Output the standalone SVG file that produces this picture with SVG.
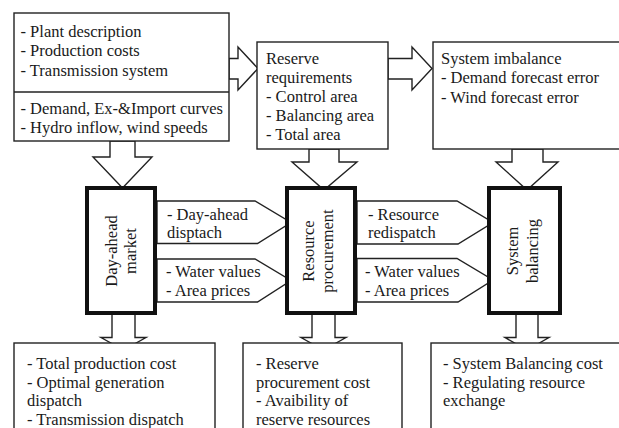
<svg xmlns="http://www.w3.org/2000/svg" width="619" height="428" viewBox="0 0 619 428">
<style>
text{font-family:"Liberation Serif","Times New Roman",serif;font-size:16.5px;fill:#1a1a1a}
.box{fill:#fff;stroke:#222;stroke-width:1.4}
.thick{fill:#fff;stroke:#111;stroke-width:4}
.arr{fill:#fff;stroke:#222;stroke-width:1.4;stroke-linejoin:miter}
.mid{text-anchor:middle}
</style>
<rect width="619" height="428" fill="#fff"/>
<g id="connectors">
  <polygon class="arr" points="229,58.5 238,58.5 238,47 258,68.5 238,90 238,79 229,79"/>
  <polygon class="arr" points="388,58.5 412,58.5 412,47 432,68.5 412,90 412,79 388,79"/>
  <polygon class="arr" points="110,141 110,157 93,157 122.5,188 152,157 135,157 135,141"/>
  <polygon class="arr" points="309,149 309,162 292,162 324,190 357,162 339,162 339,149"/>
  <polygon class="arr" points="512,149 512,162 496,162 527,190 558,162 543,162 543,149"/>
  <polygon class="arr" points="157,201 255,201 291,222.5 257.5,243.5 157,243.5"/>
  <polygon class="arr" points="157,259 255,259 291,280.5 257.5,302 157,302"/>
  <polygon class="arr" points="357,201 457,201 493,222.5 458,244 357,244"/>
  <polygon class="arr" points="357,258.5 457,258.5 493,280 458,302 357,302"/>
  <polygon class="arr" points="112,313 112,337.5 101,337.5 123.5,350 146,337.5 135,337.5 135,313"/>
  <polygon class="arr" points="312,313 312,337.5 301,337.5 323.5,350 346,337.5 335,337.5 335,313"/>
  <polygon class="arr" points="516,313 516,337.5 505,337.5 527,350 549,337.5 538,337.5 538,313"/>
</g>
<g id="inputs">
  <rect class="box" x="14" y="13" width="215" height="128"/>
  <line x1="14" y1="92" x2="229" y2="92" stroke="#222" stroke-width="1.4"/>
  <text x="20.5" y="36.5">- Plant description</text>
  <text x="20.5" y="56">- Production costs</text>
  <text x="20.5" y="75.5">- Transmission system</text>
  <text x="20.5" y="113.5">- Demand, Ex-&amp;Import curves</text>
  <text x="20.5" y="132.5">- Hydro inflow, wind speeds</text>
</g>
<g id="reserve-requirements">
  <rect class="box" x="257" y="42" width="131" height="107"/>
  <text x="266" y="64">Reserve</text>
  <text x="266" y="83">requirements</text>
  <text x="266" y="102">- Control area</text>
  <text x="266" y="121">- Balancing area</text>
  <text x="266" y="140">- Total area</text>
</g>
<g id="system-imbalance">
  <rect class="box" x="433" y="42" width="200" height="107"/>
  <text x="441" y="64">System imbalance</text>
  <text x="441" y="83">- Demand forecast error</text>
  <text x="441" y="102.5">- Wind forecast error</text>
</g>
<g id="day-ahead-market">
  <rect class="thick" x="87" y="188" width="68" height="125"/>
  <g transform="translate(121,251) rotate(-90)">
    <text class="mid" x="0" y="-4.5">Day-ahead</text>
    <text class="mid" x="0" y="14.5">market</text>
  </g>
</g>
<g id="resource-procurement">
  <rect class="thick" x="287" y="188" width="68" height="125"/>
  <g transform="translate(321,251) rotate(-90)">
    <text class="mid" x="0" y="-7">Resource</text>
    <text class="mid" x="0" y="12">procurement</text>
  </g>
</g>
<g id="system-balancing">
  <rect class="thick" x="489" y="188" width="71" height="125"/>
  <g transform="translate(524,251) rotate(-90)">
    <text class="mid" x="0" y="-6">System</text>
    <text class="mid" x="0" y="14">balancing</text>
  </g>
</g>
<g id="arrow-labels">
  <text x="167" y="219.5">- Day-ahead</text>
  <text x="167" y="238">disptach</text>
  <text x="166" y="277">- Water values</text>
  <text x="166" y="296">- Area prices</text>
  <text x="368" y="219.5">- Resource</text>
  <text x="368" y="238">redispatch</text>
  <text x="365" y="277">- Water values</text>
  <text x="365" y="296">- Area prices</text>
</g>
<g id="out-day-ahead">
  <rect class="box" x="14" y="343" width="201" height="100"/>
  <text x="27" y="368.5">- Total production cost</text>
  <text x="27" y="387.5">- Optimal generation</text>
  <text x="27" y="406">dispatch</text>
  <text x="27" y="425">- Transmission dispatch</text>
</g>
<g id="out-resource">
  <rect class="box" x="243" y="343" width="159" height="100"/>
  <text x="256" y="368.5">- Reserve</text>
  <text x="256" y="387.5">procurement cost</text>
  <text x="256" y="406">- Avaibility of</text>
  <text x="256" y="425">reserve resources</text>
</g>
<g id="out-balancing">
  <rect class="box" x="431" y="343" width="200" height="100"/>
  <text x="443" y="368.5">- System Balancing cost</text>
  <text x="443" y="387.5">- Regulating resource</text>
  <text x="443" y="406">exchange</text>
</g>
</svg>
